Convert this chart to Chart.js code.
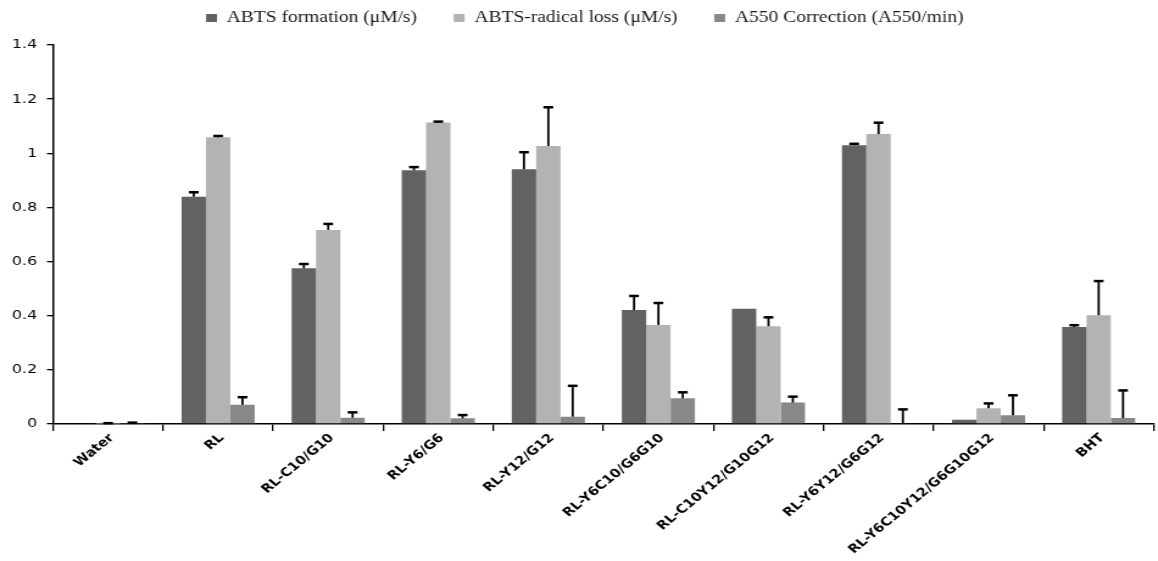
<!DOCTYPE html>
<html>
<head>
<meta charset="utf-8">
<script src="https://cdn.jsdelivr.net/npm/chart.js@4/dist/chart.umd.min.js"></script>
<style>
  html, body { margin: 0; padding: 0; background: #fff; overflow: hidden; }
  #wrap { width: 950px; height: 561px; transform: scaleX(1.2189); transform-origin: 0 0; }
</style>
</head>
<body>
<div id="wrap"><canvas id="chart" width="950" height="561"></canvas></div>
<script>
// Samples along the x axis
const categories = ['Water', 'RL', 'RL-C10/G10', 'RL-Y6/G6', 'RL-Y12/G12', 'RL-Y6C10/G6G10',
  'RL-C10Y12/G10G12', 'RL-Y6Y12/G6G12', 'RL-Y6C10Y12/G6G10G12', 'BHT'];

// Series names
const seriesNames = ['ABTS formation (\u03BCM/s)', 'ABTS-radical loss (\u03BCM/s)', 'A550 Correction (A550/min)'];

// Mean values
const abtsFormation = [0, 0.839, 0.575, 0.937, 0.941, 0.421, 0.426, 1.030, 0.016, 0.358];
const radicalLoss   = [0.001, 1.059, 0.717, 1.114, 1.027, 0.366, 0.361, 1.071, 0.058, 0.402];
const a550          = [0.002, 0.071, 0.023, 0.021, 0.027, 0.095, 0.079, 0, 0.032, 0.022];

// Upper error (standard deviation)
const abtsFormationErr = [0, 0.017, 0.016, 0.012, 0.063, 0.052, 0, 0.005, 0, 0.007];
const radicalLossErr   = [0.002, 0.005, 0.022, 0.003, 0.143, 0.081, 0.033, 0.042, 0.018, 0.126];
const a550Err          = [0.003, 0.028, 0.020, 0.012, 0.114, 0.022, 0.022, 0.054, 0.074, 0.102];

// Y axis ticks
const yTicks = [0, 0.2, 0.4, 0.6, 0.8, 1, 1.2, 1.4];

const seriesColors = ['#626262', '#b3b3b3', '#888888'];
const seriesValues = [abtsFormation, radicalLoss, a550];
const seriesErrors = [abtsFormationErr, radicalLossErr, a550Err];

// Upper error whiskers with a cap
const errorBars = {
  id: 'errorBars',
  afterDatasetsDraw(chart) {
    const ctx = chart.ctx;
    const y = chart.scales.y;
    chart.data.datasets.forEach((ds, i) => {
      const meta = chart.getDatasetMeta(i);
      const errs = seriesErrors[i];
      meta.data.forEach((bar, j) => {
        const e = errs[j];
        if (!e) return;
        const base = y.getPixelForValue(ds.data[j]);
        const top = y.getPixelForValue(ds.data[j] + e);
        ctx.save();
        ctx.strokeStyle = '#000';
        ctx.lineCap = 'butt';
        ctx.lineWidth = 1.8;
        ctx.beginPath();
        ctx.moveTo(bar.x, base);
        ctx.lineTo(bar.x, top);
        ctx.stroke();
        ctx.lineWidth = 2.5;
        ctx.beginPath();
        ctx.moveTo(bar.x - 4, top);
        ctx.lineTo(bar.x + 4, top);
        ctx.stroke();
        ctx.restore();
      });
    });
  }
};

// Fixed legend band height, legend nudged right
const legendBand = {
  id: 'legendBand',
  beforeLayout(chart) {
    const lg = chart.legend;
    if (lg && !lg.__bandFit) {
      const fit = lg.fit;
      lg.fit = function () { fit.call(this); this.height = 65; };
      lg.__bandFit = true;
    }
  },
  afterLayout(chart) {
    const lg = chart.legend;
    if (lg) { lg.left += 6.5; lg.right += 6.5; }
  }
};

new Chart(document.getElementById('chart'), {
  type: 'bar',
  data: {
    labels: categories,
    datasets: seriesNames.map((name, i) => ({
      label: name,
      data: seriesValues[i],
      backgroundColor: seriesColors[i],
      borderWidth: 0,
      categoryPercentage: 0.664,
      barPercentage: 1.0
    }))
  },
  options: {
    responsive: false,
    animation: false,
    layout: { padding: { top: -20, left: 0, right: 3.5, bottom: 0 } },
    plugins: {
      tooltip: { enabled: false },
      legend: {
        position: 'top',
        labels: {
          boxWidth: 9,
          boxHeight: 8,
          padding: 30,
          color: '#1a1a1a',
          font: { family: '"Liberation Serif", "Times New Roman", serif', size: 16 }
        }
      }
    },
    scales: {
      x: {
        border: { color: '#000', width: 1.5 },
        grid: { offset: true, drawOnChartArea: false, drawTicks: true, tickLength: 7, color: '#000', lineWidth: 1.3 },
        ticks: {
          autoSkip: false,
          minRotation: 45,
          maxRotation: 45,
          padding: 0,
          labelOffset: 3,
          color: '#000',
          font: { family: '"DejaVu Sans", Verdana, sans-serif', size: 12, weight: 'bold' }
        },
        afterFit(scale) { scale.height = 137; }
      },
      y: {
        min: 0,
        max: 1.4,
        border: { color: '#000', width: 1.5 },
        grid: { drawOnChartArea: false, drawTicks: true, tickLength: 5, color: '#000', lineWidth: 1.3 },
        afterBuildTicks(scale) { scale.ticks = yTicks.map(v => ({ value: v })); },
        ticks: {
          padding: 8,
          color: '#000',
          font: { family: '"DejaVu Sans", Verdana, sans-serif', size: 13 },
          callback: (v) => String(Math.round(v * 10) / 10)
        },
        afterFit(scale) { scale.width = 43.5; }
      }
    }
  },
  plugins: [errorBars, legendBand]
});
</script>
</body>
</html>
